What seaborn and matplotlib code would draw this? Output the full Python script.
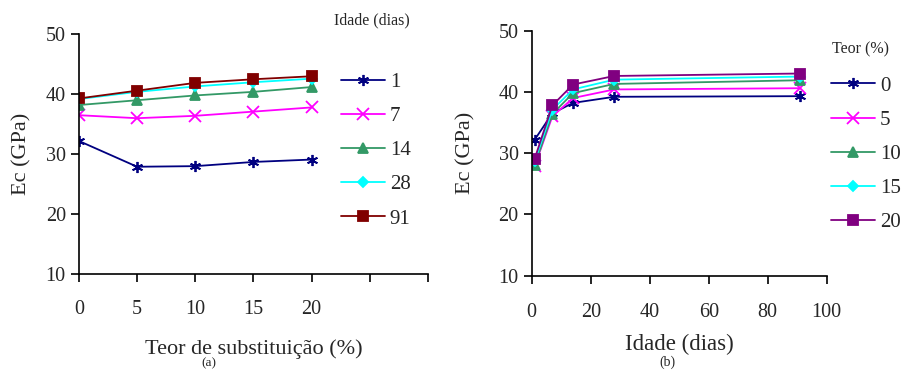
import numpy as np
import pandas as pd
import matplotlib
matplotlib.use("Agg")
import matplotlib.pyplot as plt
import seaborn as sns

# Data: Ec (GPa) by replacement level (%) and age (days)
teor = [0, 5, 10, 15, 20]
idade = [1, 7, 14, 28, 91]
ec_d1 = [32.2, 27.9, 28.0, 28.7, 29.1]
ec_d7 = [36.5, 36.0, 36.4, 37.1, 37.8]
ec_d14 = [38.2, 39.0, 39.8, 40.4, 41.2]
ec_d28 = [39.2, 40.4, 41.3, 42.0, 42.6]
ec_d91 = [39.3, 40.6, 41.9, 42.5, 43.0]

sns.set_style("ticks")
plt.rcParams["font.family"] = ["Liberation Serif", "DejaVu Serif"]

rows = []
for d, vals in zip(idade, [ec_d1, ec_d7, ec_d14, ec_d28, ec_d91]):
    for t, v in zip(teor, vals):
        rows.append({"teor": t, "idade": d, "ec": v})
df = pd.DataFrame(rows)

markers = [(6, 2, 0), "x", "^", "D", "s"]
msizes = [8, 8, 7, 5, 7]
cols_a = ["#000080", "#ff00ff", "#339966", "#00ffff", "#800000"]
cols_b = ["#000080", "#ff00ff", "#339966", "#00ffff", "#800080"]

fig = plt.figure(figsize=(9.16, 3.73), dpi=100)
ax1 = fig.add_axes([0.0862, 0.2654, 0.381, 0.6426])
ax2 = fig.add_axes([0.5805, 0.2609, 0.322, 0.657])

# (a) Ec vs replacement level, one line per age
handles_a = []
for i, d in enumerate(idade):
    sub = df[df["idade"] == d]
    sns.lineplot(data=sub, x="teor", y="ec", ax=ax1, color=cols_a[i],
                 marker=markers[i], markersize=msizes[i], linewidth=1.3,
                 markeredgecolor=cols_a[i], markeredgewidth=1.3, legend=False)
    handles_a.append(ax1.lines[-1])

# (b) Ec vs age, one line per replacement level
handles_b = []
for i, t in enumerate(teor):
    sub = df[df["teor"] == t]
    sns.lineplot(data=sub, x="idade", y="ec", ax=ax2, color=cols_b[i],
                 marker=markers[i], markersize=msizes[i], linewidth=1.3,
                 markeredgecolor=cols_b[i], markeredgewidth=1.3, legend=False)
    handles_b.append(ax2.lines[-1])

for ax in (ax1, ax2):
    sns.despine(ax=ax)
    ax.set_ylim(10, 50)
    ax.set_yticks([10, 20, 30, 40, 50])
    ax.tick_params(labelsize=14.5, width=1.2, length=6, color="black")
    for s in ("left", "bottom"):
        ax.spines[s].set_linewidth(1.2)
        ax.spines[s].set_color("black")
    ax.set_ylabel("Ec (GPa)", fontsize=16)

ax1.set_xlim(0, 30)
ax1.set_xticks([0, 5, 10, 15, 20, 25, 30])
ax1.set_xticklabels(["0", "5", "10", "15", "20", "", ""])
ax1.set_xlabel("Teor de substituição (%)", fontsize=16, labelpad=14)
ax1.yaxis.set_label_coords(-0.135, 0.5)
ax1.tick_params(axis="x", pad=13)

ax2.set_xlim(0, 100)
ax2.set_xticks([0, 20, 40, 60, 80, 100])
ax2.set_xlabel("Idade (dias)", fontsize=16.5, labelpad=8)
ax2.yaxis.set_label_coords(-0.192, 0.5)
ax2.tick_params(axis="x", pad=14)

leg_kw = dict(frameon=False, fontsize=15, handlelength=2.1, handletextpad=0.25,
              labelspacing=0.7, borderpad=0, borderaxespad=0, loc="upper left",
              bbox_transform=fig.transFigure)
ax1.legend(handles_a, [str(d) for d in idade], bbox_to_anchor=(0.372, 0.806), **leg_kw)
ax2.legend(handles_b, [str(t) for t in teor], bbox_to_anchor=(0.907, 0.796), **leg_kw)

fig.text(0.365, 0.946, "Idade (dias)", fontsize=11.5, va="center", ha="left")
fig.text(0.908, 0.868, "Teor (%)", fontsize=11.5, va="center", ha="left")
fig.text(0.228, 0.01, "(a)", fontsize=9.5, ha="center", va="bottom")
fig.text(0.729, 0.01, "(b)", fontsize=10, ha="center", va="bottom")

fig.savefig("out.png", dpi=100)
